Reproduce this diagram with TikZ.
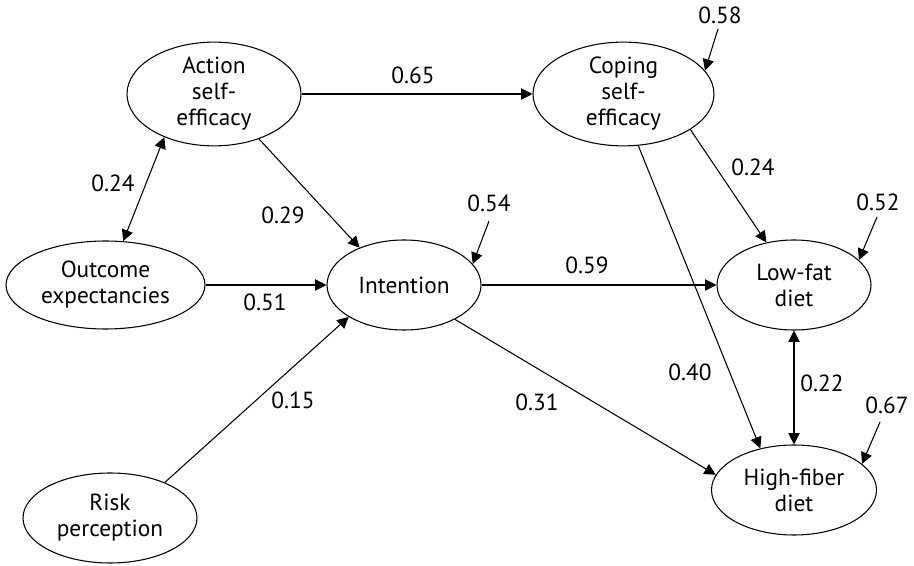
\documentclass[tikz,border=0pt]{standalone}
\usepackage{fontspec}
\setmainfont{PT Sans}
\usetikzlibrary{shapes.geometric,arrows.meta}
\begin{document}
\begin{tikzpicture}[x=0.75pt,y=-0.75pt,
  latent/.style={ellipse,draw,line width=0.8pt,inner sep=0pt,align=center,
    font=\fontsize{17.5}{19.5}\selectfont},
  coef/.style={font=\fontsize{17.5}{19.5}\selectfont,inner sep=0pt},
  effect/.style={line width=0.8pt,-{Triangle[length=8.5pt,width=8.5pt]}},
  corr/.style={line width=0.8pt,{Triangle[length=8.5pt,width=8.5pt]}-{Triangle[length=8.5pt,width=8.5pt]}}]
\useasboundingbox (0,0) rectangle (914,566);

% latent variables
\node[latent,minimum width=174*0.75pt,minimum height=102*0.75pt] (A) at (214,94) {Action\\self-\\efficacy};
\node[latent,minimum width=181*0.75pt,minimum height=102*0.75pt] (C) at (623.5,94) {Coping\\self-\\efficacy};
\node[latent,minimum width=199*0.75pt,minimum height=88*0.75pt] (O) at (105.5,285) {Outcome\\expectancies};
\node[latent,minimum width=154*0.75pt,minimum height=90*0.75pt] (I) at (404,285) {Intention};
\node[latent,minimum width=154*0.75pt,minimum height=90*0.75pt] (L) at (794,285) {Low-fat\\diet};
\node[latent,minimum width=165*0.75pt,minimum height=90*0.75pt] (H) at (794,490) {High-fiber\\diet};
\node[latent,minimum width=174*0.75pt,minimum height=90*0.75pt] (R) at (110,518) {Risk\\perception};

% free ends of the residual arrows
\coordinate (eC) at (718,29);
\coordinate (eI) at (489,221);
\coordinate (eL) at (877,217);
\coordinate (eH) at (880,422);

% structural paths
\draw[effect] (A.east) -- (C.west);
\draw[corr] (A.221.9) -- (O.68.2);
\draw[effect] (A.315.6) -- (I.140.6);
\draw[effect] (O.east) -- (I.west);
\draw[effect] (R.33.7) -- (I.210.7);
\draw[effect] (I.east) -- (L.west);
\draw[effect] (I.326.6) -- (H.169.4);
\draw[effect] (C.332.9) -- (L.123.1);
\draw[effect] (C.286.6) -- (H.129.8);
\draw[corr] (L.south) -- (H.north);

% residuals
\draw[effect] (eC) -- (C.16.7);
\draw[effect] (eI) -- (I.17.7);
\draw[effect] (eL) -- (L.21);
\draw[effect] (eH) -- (H.21.7);

% coefficients
\node[coef] (k65) at (413,75) {0.65};
\node[coef] (k24a) at (113,183) {0.24};
\node[coef] (k29) at (283,215) {0.29};
\node[coef] (k51) at (265,302) {0.51};
\node[coef] (k15) at (293,400) {0.15};
\node[coef] (k31) at (537,402) {0.31};
\node[coef] (k40) at (690,372) {0.40};
\node[coef] (k59) at (587,265) {0.59};
\node[coef] (k24b) at (753,167) {0.24};
\node[coef] (k22) at (822,383) {0.22};
\node[coef] (k58) at (720,15) {0.58};
\node[coef] (k54) at (489,203) {0.54};
\node[coef] (k52) at (878,202) {0.52};
\node[coef] (k67) at (887,405) {0.67};
\end{tikzpicture}
\end{document}
